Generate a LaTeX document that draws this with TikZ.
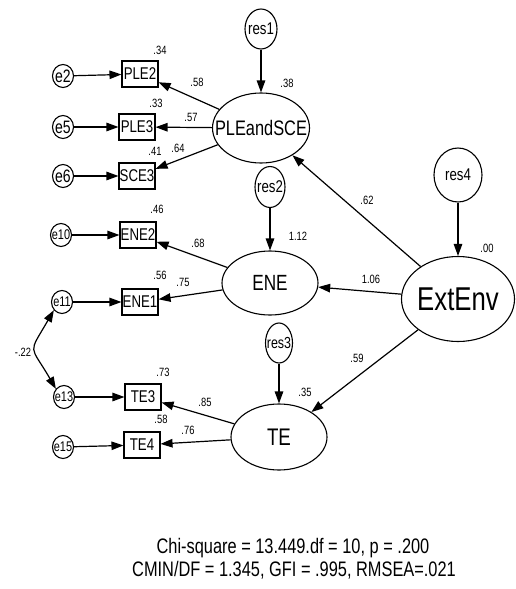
\documentclass[tikz,border=0pt]{standalone}
\usepackage{fontspec}
\setmainfont{Liberation Sans}[FakeStretch=0.78]
\usetikzlibrary{shapes.geometric,arrows.meta}
\newcommand{\fs}[1]{\fontsize{#1}{#1}\selectfont}
\begin{document}
\begin{tikzpicture}[x=1pt,y=-1pt,
  lat/.style={ellipse,draw,line width=1.1pt,inner sep=0pt},
  obs/.style={rectangle,draw,line width=1.1pt,inner sep=0pt,minimum width=36pt,minimum height=26pt,font=\fs{17}},
  err/.style={ellipse,draw,line width=1.1pt,inner sep=0pt,minimum width=21pt,minimum height=23pt},
  arr/.style={line width=1.2pt,-{Triangle[length=12pt,width=8.5pt]}},
  lab/.style={font=\fs{12},inner sep=0pt}]
\useasboundingbox (0,0) rectangle (515,589);
% latent variables
\node[lat,minimum width=97pt,minimum height=70pt,label={[font=\fs{21},inner sep=0pt]center:PLEandSCE}] (ple) at (261,128) {};
\node[lat,minimum width=96pt,minimum height=64pt,label={[font=\fs{22},inner sep=0pt]center:ENE}] (ene) at (270,283) {};
\node[lat,minimum width=96pt,minimum height=66pt,label={[font=\fs{24},inner sep=0pt]center:TE}] (te) at (279,437) {};
\node[lat,minimum width=113pt,minimum height=85pt,label={[font=\fs{33},inner sep=0pt]center:ExtEnv}] (ext) at (458,299) {};
% residuals
\node[lat,minimum width=32pt,minimum height=40pt,label={[font=\fs{17},inner sep=0pt]center:res1}] (res1) at (261,29) {};
\node[lat,minimum width=30pt,minimum height=41pt,label={[font=\fs{17},inner sep=0pt]center:res2}] (res2) at (270,187) {};
\node[lat,minimum width=27pt,minimum height=40pt,label={[font=\fs{16},inner sep=0pt]center:res3}] (res3) at (279,343) {};
\node[lat,minimum width=48pt,minimum height=54pt,label={[font=\fs{17},inner sep=0pt]center:res4}] (res4) at (458,175) {};
% observed
\node[obs] (ple2) at (140,74) {PLE2};
\node[obs] (ple3) at (137,127) {PLE3};
\node[obs] (sce3) at (137,176) {SCE3};
\node[obs] (ene2) at (138,235) {ENE2};
\node[obs] (ene1) at (140,302) {ENE1};
\node[obs] (te3) at (143,397) {TE3};
\node[obs] (te4) at (142,445) {TE4};
% errors
\node[err,label={[font=\fs{18},inner sep=0pt]center:e2}] (e2) at (63,76) {};
\node[err,label={[font=\fs{18},inner sep=0pt]center:e5}] (e5) at (63,127) {};
\node[err,label={[font=\fs{18},inner sep=0pt]center:e6}] (e6) at (63,176) {};
\node[err,label={[font=\fs{14},inner sep=0pt]center:e10}] (e10) at (61,235) {};
\node[err,label={[font=\fs{14},inner sep=0pt]center:e11}] (e11) at (62,302) {};
\node[err,label={[font=\fs{14},inner sep=0pt]center:e13}] (e13) at (64,397) {};
\node[err,label={[font=\fs{14},inner sep=0pt]center:e15}] (e15) at (63,447) {};
% error arrows
\draw[arr] (e2) -- (ple2);
\draw[arr] (e5) -- (ple3);
\draw[arr] (e6) -- (sce3);
\draw[arr] (e10) -- (ene2);
\draw[arr] (e11) -- (ene1);
\draw[arr] (e13) -- (te3);
\draw[arr] (e15) -- (te4);
% loadings
\draw[arr] (ple) -- (ple2);
\draw[arr] (ple) -- (ple3);
\draw[arr] (ple) -- (sce3);
\draw[arr] (ene) -- (ene2);
\draw[arr] (ene) -- (ene1);
\draw[arr] (te) -- (te3);
\draw[arr] (te) -- (te4);
% residual arrows
\draw[arr] (res1) -- (ple);
\draw[arr] (res2) -- (ene);
\draw[arr] (res3) -- (te);
\draw[arr] (res4) -- (ext);
% structural
\draw[arr] (ext) -- (ple);
\draw[arr] (ext) -- (ene);
\draw[arr] (ext) -- (te);
% covariance
\draw[line width=1.2pt,{Triangle[length=12pt,width=8.5pt]}-{Triangle[length=12pt,width=8.5pt]}] (e11.225) to[out=240,in=120,looseness=1.7] (e13.135);
% labels
\node[lab] (l1) at (160,50) {.34};
\node[lab] (l2) at (197,82) {.58};
\node[lab] (l3) at (287,83) {.38};
\node[lab] (l4) at (156,103) {.33};
\node[lab] (l5) at (191,117) {.57};
\node[lab] (l6) at (155,151) {.41};
\node[lab] (l7) at (178,148) {.64};
\node[lab] (l8) at (157,209) {.46};
\node[lab] (l9) at (298,236) {1.12};
\node[lab] (l10) at (198,243) {.68};
\node[lab] (l11) at (160,275) {.56};
\node[lab] (l12) at (183,282) {.75};
\node[lab] (l13) at (23,352) {-.22};
\node[lab] (l14) at (163,372) {.73};
\node[lab] (l15) at (305,392) {.35};
\node[lab] (l16) at (205,402) {.85};
\node[lab] (l17) at (161,419) {.58};
\node[lab] (l18) at (188,430) {.76};
\node[lab] (l19) at (367,200) {.62};
\node[lab] (l20) at (487,248) {.00};
\node[lab] (l21) at (371,279) {1.06};
\node[lab] (l22) at (357,358) {.59};
% fit statistics
\node[font=\fs{21},inner sep=0pt] (fit1) at (293,548) {Chi-square = 13.449.df = 10, p = .200};
\node[font=\fs{21},inner sep=0pt] (fit2) at (294,570) {CMIN/DF = 1.345, GFI = .995, RMSEA=.021};
\end{tikzpicture}
\end{document}
